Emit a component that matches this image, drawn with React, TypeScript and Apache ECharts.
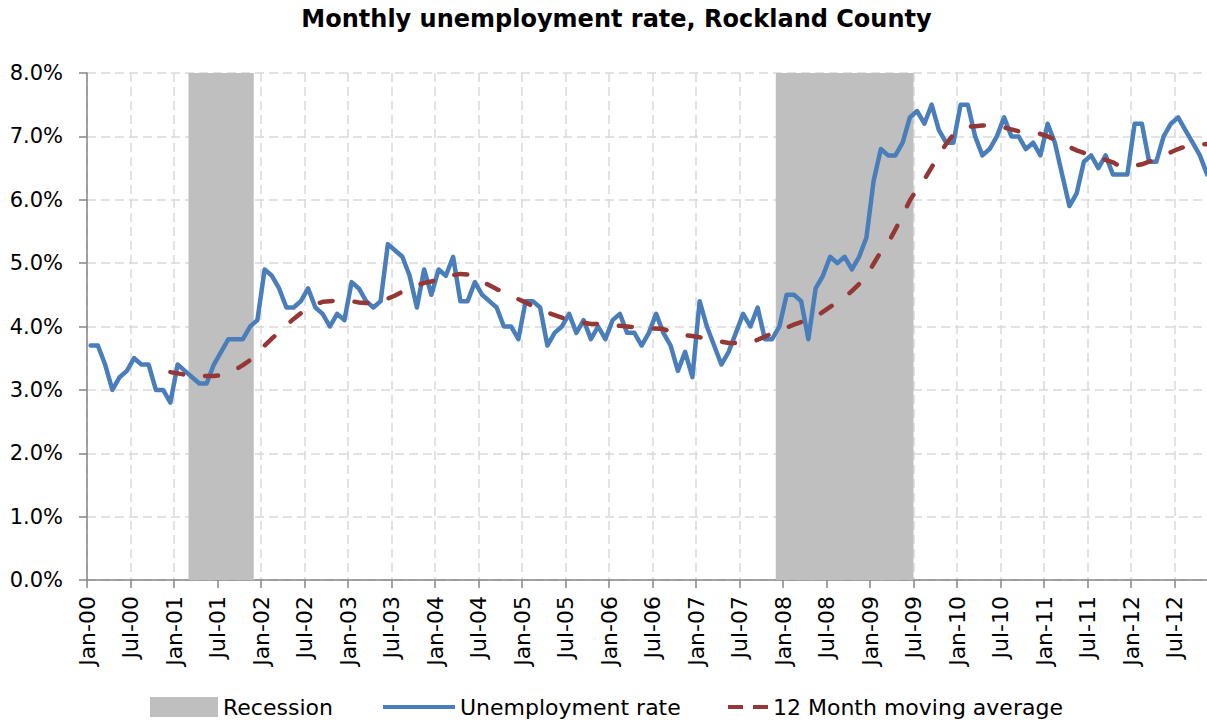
import React, { useEffect, useRef } from "react";
import * as echarts from "echarts";

// Tick labels every 6 months, starting Jan-00 (month index 0)
const tickLabels = [
  "Jan-00", "Jul-00", "Jan-01", "Jul-01", "Jan-02", "Jul-02", "Jan-03", "Jul-03",
  "Jan-04", "Jul-04", "Jan-05", "Jul-05", "Jan-06", "Jul-06", "Jan-07", "Jul-07",
  "Jan-08", "Jul-08", "Jan-09", "Jul-09", "Jan-10", "Jul-10", "Jan-11", "Jul-11",
  "Jan-12", "Jul-12",
];

// Monthly unemployment rate (%), Jan-00 .. Nov-12
const unemployment = [
  3.7, 3.7, 3.4, 3.0, 3.2, 3.3, 3.5, 3.4, 3.4, 3.0, 3.0, 2.8,
  3.4, 3.3, 3.2, 3.1, 3.1, 3.4, 3.6, 3.8, 3.8, 3.8, 4.0, 4.1,
  4.9, 4.8, 4.6, 4.3, 4.3, 4.4, 4.6, 4.3, 4.2, 4.0, 4.2, 4.1,
  4.7, 4.6, 4.4, 4.3, 4.4, 5.3, 5.2, 5.1, 4.8, 4.3, 4.9, 4.5,
  4.9, 4.8, 5.1, 4.4, 4.4, 4.7, 4.5, 4.4, 4.3, 4.0, 4.0, 3.8,
  4.4, 4.4, 4.3, 3.7, 3.9, 4.0, 4.2, 3.9, 4.1, 3.8, 4.0, 3.8,
  4.1, 4.2, 3.9, 3.9, 3.7, 3.9, 4.2, 3.9, 3.7, 3.3, 3.6, 3.2,
  4.4, 4.0, 3.7, 3.4, 3.6, 3.9, 4.2, 4.0, 4.3, 3.8, 3.8, 4.0,
  4.5, 4.5, 4.4, 3.8, 4.6, 4.8, 5.1, 5.0, 5.1, 4.9, 5.1, 5.4,
  6.3, 6.8, 6.7, 6.7, 6.9, 7.3, 7.4, 7.2, 7.5, 7.1, 6.9, 6.9,
  7.5, 7.5, 7.0, 6.7, 6.8, 7.0, 7.3, 7.0, 7.0, 6.8, 6.9, 6.7,
  7.2, 6.9, 6.4, 5.9, 6.1, 6.6, 6.7, 6.5, 6.7, 6.4, 6.4, 6.4,
  7.2, 7.2, 6.6, 6.6, 7.0, 7.2, 7.3, 7.1, 6.9, 6.7, 6.4,
];

// 12 month moving average (%), first value at Dec-00 (month index 11)
const movingAvgStart = 11;
const movingAvg = [
  3.28,
  3.26, 3.24, 3.22, 3.22, 3.22, 3.22, 3.23, 3.26, 3.32, 3.39, 3.47, 3.58,
  3.70, 3.81, 3.91, 4.02, 4.12, 4.21, 4.29, 4.35, 4.39, 4.40, 4.41, 4.41,
  4.40, 4.38, 4.37, 4.37, 4.40, 4.44, 4.49, 4.55, 4.60, 4.65, 4.69, 4.71,
  4.74, 4.77, 4.81, 4.83, 4.82, 4.77, 4.71, 4.65, 4.59, 4.54, 4.49, 4.43,
  4.38, 4.32, 4.27, 4.22, 4.18, 4.14, 4.10, 4.08, 4.06, 4.04, 4.04, 4.03,
  4.02, 4.01, 4.00, 3.99, 3.97, 3.97, 3.97, 3.96, 3.92, 3.88, 3.86, 3.85,
  3.83, 3.81, 3.79, 3.76, 3.74, 3.74, 3.74, 3.75, 3.79, 3.84, 3.89, 3.94,
  3.98, 4.03, 4.07, 4.11, 4.15, 4.23, 4.31, 4.38, 4.46, 4.56, 4.67, 4.80,
  4.99, 5.18, 5.32, 5.53, 5.76, 5.99, 6.17, 6.32, 6.51, 6.71, 6.88, 7.03,
  7.10, 7.15, 7.16, 7.17, 7.18, 7.16, 7.14, 7.11, 7.08, 7.06, 7.05, 7.04,
  7.00, 6.95, 6.90, 6.83, 6.78, 6.74, 6.69, 6.66, 6.63, 6.59, 6.53, 6.52,
  6.54, 6.56, 6.60, 6.64, 6.69, 6.75, 6.80, 6.84, 6.86, 6.87, 6.88,
];

// Recession periods as [first month index, month index after last month]
const recessionStart = [14, 95]; // Mar-01, Dec-07
const recessionEnd = [23, 114]; // through Nov-01, through Jun-09

const FONT = "DejaVu Sans";
const BLUE = "#4A7EBB";
const RED = "#953735";
const GREY = "#BFBFBF";

export default function App() {
  const ref = useRef<HTMLDivElement>(null);

  useEffect(() => {
    if (!ref.current) return;
    const chart = echarts.init(ref.current, undefined, { renderer: "svg" });

    const blueData = unemployment.map((v, i) => [i + 0.5, v]);
    const maData = movingAvg.map((v, i) => [movingAvgStart + i + 0.5, v]);
    const areas = recessionStart.map((s, i) => [{ xAxis: s }, { xAxis: recessionEnd[i] }]);

    const legendText = { fontFamily: FONT, fontSize: 22, color: "#000" };

    chart.setOption({
      animation: false,
      backgroundColor: "#fff",
      title: {
        text: "Monthly unemployment rate, Rockland County",
        left: "center",
        top: 7,
        padding: 0,
        textStyle: { fontFamily: FONT, fontSize: 24, fontWeight: "bold", color: "#000" },
      },
      grid: { left: 87, top: 73, right: 15, height: 507, outerBoundsMode: "none" },
      legend: [
        {
          data: [{ name: "Recession", icon: "rect", itemStyle: { color: GREY } }],
          left: 150, top: 696, padding: 0, itemWidth: 68, itemHeight: 20,
          textStyle: legendText, selectedMode: false,
        },
        {
          data: [{ name: "Unemployment rate", icon: "path://M0,0H72V4H0Z", itemStyle: { color: BLUE } }],
          left: 383, top: 696, padding: 0, itemWidth: 72, itemHeight: 4,
          textStyle: legendText, selectedMode: false,
        },
        {
          data: [{
            name: "12 Month moving average",
            icon: "path://M0,0H15V4H0Z M25,0H40V4H25Z",
            itemStyle: { color: RED },
          }],
          left: 728, top: 696, padding: 0, itemWidth: 40, itemHeight: 4,
          textStyle: legendText, selectedMode: false,
        },
      ],
      xAxis: {
        type: "value",
        min: 0,
        max: 156,
        interval: 6,
        axisLine: { show: true, onZero: false, lineStyle: { color: "#868686", width: 1.5 } },
        axisTick: { show: true, length: 8, lineStyle: { color: "#868686", width: 1.5 } },
        axisLabel: {
          rotate: 90,
          margin: 16,
          fontFamily: FONT,
          fontSize: 22,
          color: "#000",
          showMaxLabel: false,
          formatter: (v: number) => tickLabels[Math.round(v / 6)] ?? "",
        },
        splitLine: { show: true, lineStyle: { color: "#D9D9D9", width: 1.5, type: [9, 5] } },
      },
      yAxis: {
        type: "value",
        min: 0,
        max: 8,
        interval: 1,
        axisLine: { show: true, lineStyle: { color: "#868686", width: 1.5 } },
        axisTick: { show: true, length: 8, lineStyle: { color: "#868686", width: 1.5 } },
        axisLabel: {
          margin: 24,
          fontFamily: FONT,
          fontSize: 21,
          color: "#000",
          formatter: (v: number) => v.toFixed(1) + "%",
        },
        splitLine: { show: true, lineStyle: { color: "#D9D9D9", width: 1.5, type: [9, 5] } },
      },
      series: [
        {
          name: "Recession",
          type: "line",
          data: [],
          color: GREY,
          z: 1,
          markArea: {
            silent: true,
            itemStyle: { color: GREY, opacity: 1 },
            data: areas,
          },
        },
        {
          name: "Unemployment rate",
          type: "line",
          data: blueData,
          color: BLUE,
          symbol: "none",
          showSymbol: false,
          z: 3,
          lineStyle: { color: BLUE, width: 4.5, join: "round", cap: "round" },
        },
        {
          name: "12 Month moving average",
          type: "line",
          data: maData,
          color: RED,
          symbol: "none",
          showSymbol: false,
          z: 4,
          lineStyle: { color: RED, width: 4.5, type: [13, 22], cap: "round" },
        },
      ],
    });

    return () => chart.dispose();
  }, []);

  return (
    <div
      style={{
        position: "fixed", left: 0, top: 0, width: 1207, height: 724,
        overflow: "hidden", background: "#fff",
      }}
    >
      <div ref={ref} style={{ width: 1233, height: 724 }} />
    </div>
  );
}
